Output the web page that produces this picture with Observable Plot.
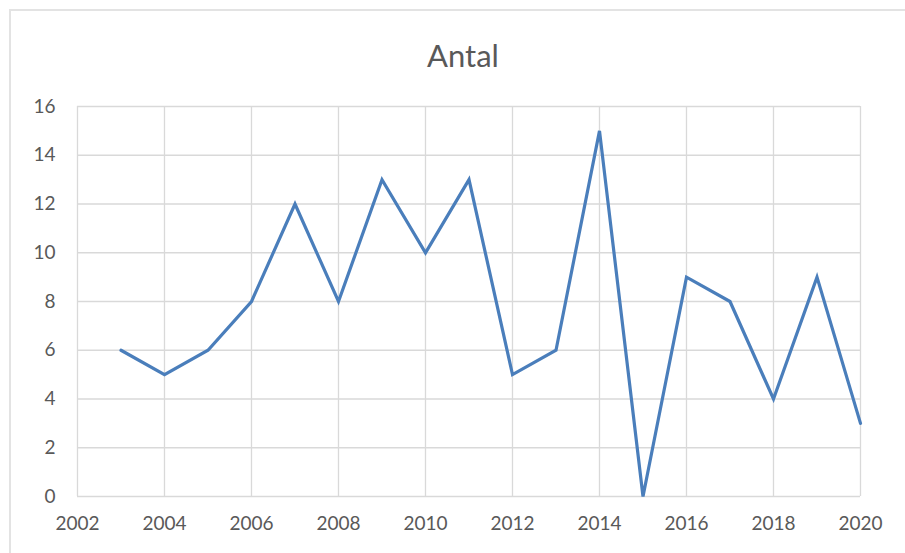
<!DOCTYPE html>
<html>
<head>
<meta charset="utf-8">
<script src="https://cdn.jsdelivr.net/npm/d3@7"></script>
<script src="https://cdn.jsdelivr.net/npm/@observablehq/plot@0.6"></script>
<style>
  html, body { margin: 0; padding: 0; background: #fff; }
  #wrap { position: relative; width: 905px; height: 553px; overflow: hidden; font-family: Lato, "Open Sans", sans-serif; }
  #frame { position: absolute; left: 9px; top: 9px; width: 920px; height: 560px; border-top: 2px solid #e3e3e3; border-left: 2px solid #e3e3e3; }
  #title { position: absolute; left: 0; top: 0; width: 926px; height: 80px; text-align: center; font-size: 31px; line-height: 110px; color: #595959; }
  #chart { position: absolute; left: 0; top: 80px; }
</style>
</head>
<body>
<div id="wrap">
  <div id="frame"></div>
  <div id="title">Antal</div>
  <div id="chart"></div>
</div>
<script>
const years = [2003, 2004, 2005, 2006, 2007, 2008, 2009, 2010, 2011, 2012, 2013, 2014, 2015, 2016, 2017, 2018, 2019, 2020];
const antal = [6, 5, 6, 8, 12, 8, 13, 10, 13, 5, 6, 15, 0, 9, 8, 4, 9, 3];
const xTicks = [2002, 2004, 2006, 2008, 2010, 2012, 2014, 2016, 2018, 2020];
const yTicks = [0, 2, 4, 6, 8, 10, 12, 14, 16];

const data = years.map((y, i) => ({year: y, value: antal[i]}));

const chart = Plot.plot({
  width: 905,
  height: 473,
  marginTop: 26,
  marginBottom: 57,
  marginLeft: 77,
  marginRight: 45,
  style: {fontFamily: "Lato, 'Open Sans', sans-serif", fontSize: "19px", color: "#595959", background: "transparent"},
  x: {domain: [2002, 2020], ticks: xTicks, tickFormat: d => String(d), label: null},
  y: {domain: [0, 16], ticks: yTicks, label: null},
  marks: [
    Plot.gridX(xTicks, {stroke: "#d9d9d9", strokeOpacity: 1, strokeWidth: 1.3}),
    Plot.gridY(yTicks, {stroke: "#d9d9d9", strokeOpacity: 1, strokeWidth: 1.3}),
    Plot.axisX({ticks: xTicks, tickSize: 0, tickPadding: 20, tickFormat: d => String(d), label: null, fill: "#595959"}),
    Plot.axisY({ticks: yTicks, tickSize: 0, tickPadding: 22, label: null, fill: "#595959"}),
    Plot.lineY(data, {x: "year", y: "value", stroke: "#4a7ebb", strokeWidth: 3.2, strokeLinejoin: "miter", strokeMiterlimit: 4})
  ]
});
document.getElementById("chart").appendChild(chart);
</script>
</body>
</html>
